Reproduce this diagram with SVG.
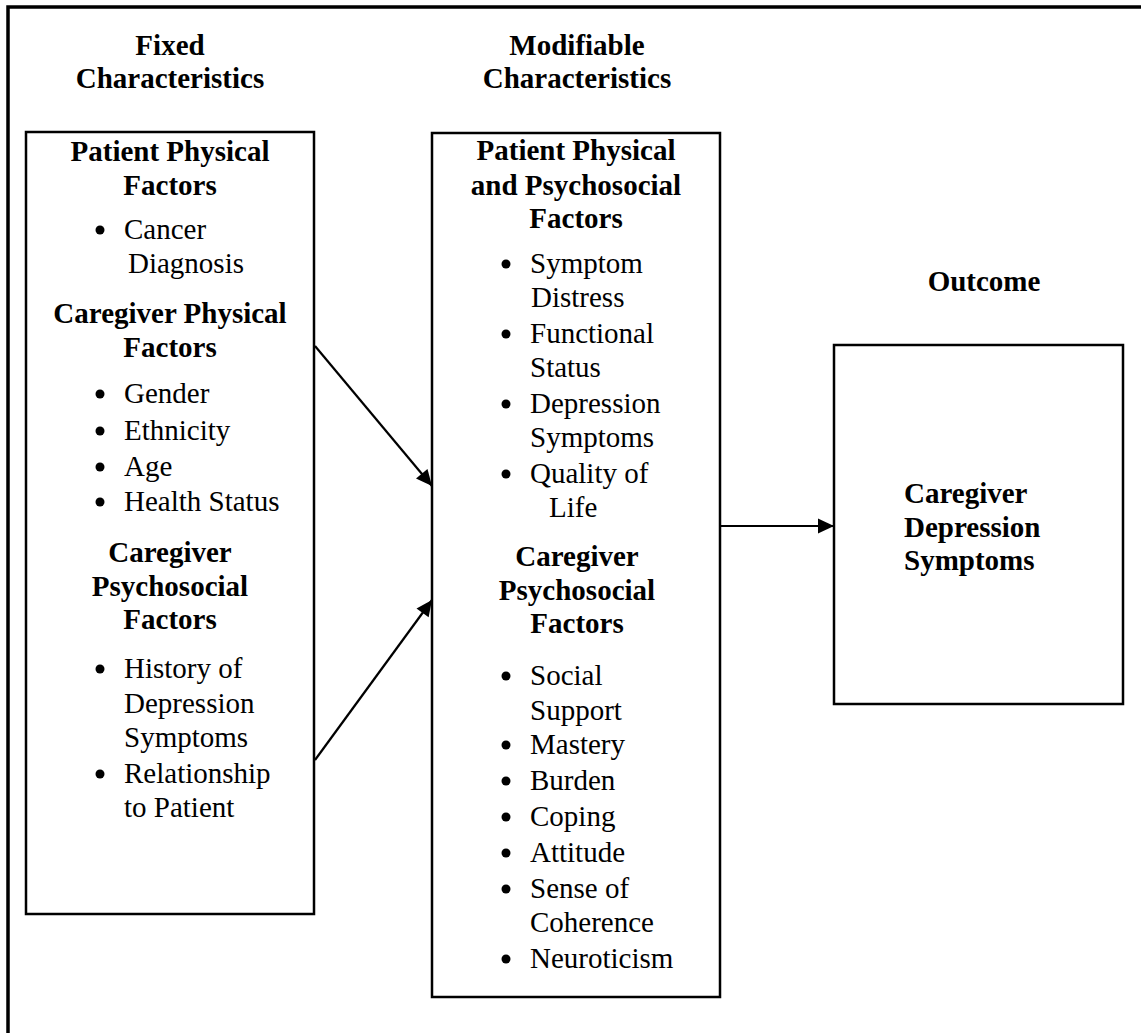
<svg xmlns="http://www.w3.org/2000/svg" width="1141" height="1033" viewBox="0 0 1141 1033">
<defs>
<style>
.box{fill:#fff;stroke:#000;stroke-width:2.5}
.frame{fill:none;stroke:#000;stroke-width:3.5}
.h{font-family:"Liberation Serif","Times New Roman",serif;font-weight:bold;font-size:29px;fill:#000;text-anchor:middle}
.hs{font-family:"Liberation Serif","Times New Roman",serif;font-weight:bold;font-size:29px;fill:#000}
.t{font-family:"Liberation Serif","Times New Roman",serif;font-size:29px;fill:#000}
.b{fill:#000}
.c{fill:none;stroke:#000;stroke-width:2.2}
</style>
<marker id="ah" markerUnits="userSpaceOnUse" markerWidth="18" markerHeight="18" viewBox="0 0 18 18" refX="17" refY="9" orient="auto">
<path d="M1,1.5 L17,9 L1,16.5 Z" fill="#000"/>
</marker>
</defs>
<rect width="1141" height="1033" fill="#fff"/>
<rect class="frame" x="8" y="7" width="1200" height="1100"/>

<g id="title-fixed">
<text class="h" x="170" y="55">Fixed</text>
<text class="h" x="170" y="88">Characteristics</text>
</g>
<g id="title-modifiable">
<text class="h" x="577" y="55">Modifiable</text>
<text class="h" x="577" y="88">Characteristics</text>
</g>
<g id="title-outcome">
<text class="h" x="984" y="291">Outcome</text>
</g>

<g id="fixed-box">
<rect class="box" x="26" y="132" width="288" height="782"/>
<text class="h" x="170" y="161">Patient Physical</text>
<text class="h" x="170" y="195">Factors</text>
<circle class="b" cx="100" cy="230" r="4.5"/>
<text class="t" x="124" y="239">Cancer</text>
<text class="t" x="128" y="273">Diagnosis</text>
<text class="h" x="170" y="323">Caregiver Physical</text>
<text class="h" x="170" y="357">Factors</text>
<circle class="b" cx="100" cy="394" r="4.5"/>
<text class="t" x="124" y="403">Gender</text>
<circle class="b" cx="100" cy="431" r="4.5"/>
<text class="t" x="124" y="440">Ethnicity</text>
<circle class="b" cx="100" cy="467" r="4.5"/>
<text class="t" x="124" y="476">Age</text>
<circle class="b" cx="100" cy="502" r="4.5"/>
<text class="t" x="124" y="511">Health Status</text>
<text class="h" x="170" y="562">Caregiver</text>
<text class="h" x="170" y="596">Psychosocial</text>
<text class="h" x="170" y="629">Factors</text>
<circle class="b" cx="100" cy="669" r="4.5"/>
<text class="t" x="124" y="678">History of</text>
<text class="t" x="124" y="713">Depression</text>
<text class="t" x="124" y="747">Symptoms</text>
<circle class="b" cx="100" cy="774" r="4.5"/>
<text class="t" x="124" y="783">Relationship</text>
<text class="t" x="124" y="817">to Patient</text>
</g>

<g id="modifiable-box">
<rect class="box" x="432" y="133" width="288" height="864"/>
<text class="h" x="576" y="160">Patient Physical</text>
<text class="h" x="576" y="195">and Psychosocial</text>
<text class="h" x="576" y="228">Factors</text>
<circle class="b" cx="506" cy="264" r="4.5"/>
<text class="t" x="530" y="273">Symptom</text>
<text class="t" x="531" y="307">Distress</text>
<circle class="b" cx="506" cy="334" r="4.5"/>
<text class="t" x="530" y="343">Functional</text>
<text class="t" x="530" y="377">Status</text>
<circle class="b" cx="506" cy="404" r="4.5"/>
<text class="t" x="530" y="413">Depression</text>
<text class="t" x="530" y="447">Symptoms</text>
<circle class="b" cx="506" cy="474" r="4.5"/>
<text class="t" x="530" y="483">Quality of</text>
<text class="t" x="549" y="517">Life</text>
<text class="h" x="577" y="566">Caregiver</text>
<text class="h" x="577" y="600">Psychosocial</text>
<text class="h" x="577" y="633">Factors</text>
<circle class="b" cx="506" cy="676" r="4.5"/>
<text class="t" x="530" y="685">Social</text>
<text class="t" x="530" y="720">Support</text>
<circle class="b" cx="506" cy="745" r="4.5"/>
<text class="t" x="530" y="754">Mastery</text>
<circle class="b" cx="506" cy="781" r="4.5"/>
<text class="t" x="530" y="790">Burden</text>
<circle class="b" cx="506" cy="817" r="4.5"/>
<text class="t" x="530" y="826">Coping</text>
<circle class="b" cx="506" cy="853" r="4.5"/>
<text class="t" x="530" y="862">Attitude</text>
<circle class="b" cx="506" cy="889" r="4.5"/>
<text class="t" x="530" y="898">Sense of</text>
<text class="t" x="530" y="932">Coherence</text>
<circle class="b" cx="506" cy="959" r="4.5"/>
<text class="t" x="530" y="968">Neuroticism</text>
</g>

<g id="outcome-box">
<rect class="box" x="834" y="345" width="289" height="359"/>
<text class="hs" x="904" y="503">Caregiver</text>
<text class="hs" x="904" y="537">Depression</text>
<text class="hs" x="904" y="570">Symptoms</text>
</g>

<g id="connectors">
<line class="c" x1="315" y1="346" x2="432" y2="486" marker-end="url(#ah)"/>
<line class="c" x1="315" y1="760" x2="432" y2="600" marker-end="url(#ah)"/>
<line class="c" x1="720" y1="526" x2="834" y2="526" marker-end="url(#ah)"/>
</g>
</svg>
